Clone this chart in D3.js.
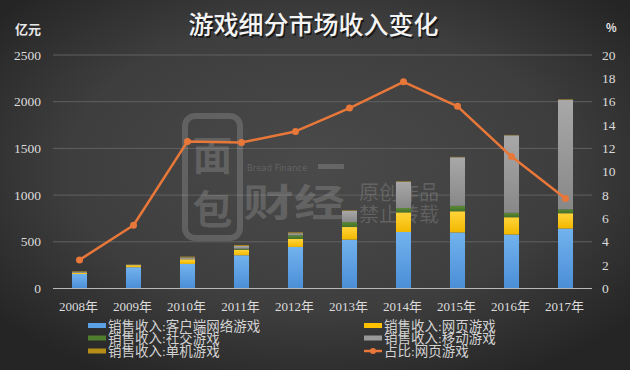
<!DOCTYPE html>
<html>
<head>
<meta charset="utf-8">
<script src="https://cdn.jsdelivr.net/npm/d3@7"></script>
<style>
  html, body { margin: 0; padding: 0; background: #333; }
  svg { display: block; }
</style>
</head>
<body>
<div id="chart"></div>
<script>
// values (亿元 / %)
var years = ["2008年", "2009年", "2010年", "2011年", "2012年", "2013年", "2014年", "2015年", "2016年", "2017年"];
var clientRev = [155, 228, 263, 356, 445, 523, 605, 600, 578, 642];
var webRev    = [12, 22, 50, 60, 85, 135, 210, 227, 185, 164];
var socialRev = [0, 0, 0, 10, 40, 53, 46, 58, 47, 42];
var mobileRev = [12, 4, 20, 30, 22, 120, 283, 520, 830, 1172];
var singleRev = [6, 2, 8, 10, 8, 5, 5, 4, 4, 5];
var webShare  = [2.45, 5.42, 12.6, 12.5, 13.45, 15.45, 17.7, 15.6, 11.3, 7.7];
var leftTicks = [0, 500, 1000, 1500, 2000, 2500];
var rightTicks = [0, 2, 4, 6, 8, 10, 12, 14, 16, 18, 20];

var seriesNames = ["销售收入:客户端网络游戏", "销售收入:网页游戏", "销售收入:社交游戏", "销售收入:移动游戏", "销售收入:单机游戏"];
var seriesKeys = ["client", "web", "social", "mobile", "single"];
var lineName = "占比:网页游戏";

var width = 630, height = 370;
var serif = "'Liberation Serif', 'DejaVu Serif', 'Noto Sans CJK SC', serif";
var cjk = "'Noto Sans CJK SC', sans-serif";

var table = years.map(function (y, i) {
    return { year: y, client: clientRev[i], web: webRev[i], social: socialRev[i], mobile: mobileRev[i], single: singleRev[i] };
});

var svg = d3.select("#chart").append("svg")
    .attr("width", width)
    .attr("height", height);

var defs = svg.append("defs");

// dark vignette background
var bg = defs.append("radialGradient").attr("id", "bg")
    .attr("cx", "50%").attr("cy", "45%").attr("r", "65%");
bg.append("stop").attr("offset", "0%").attr("stop-color", "#4a4a4a");
bg.append("stop").attr("offset", "60%").attr("stop-color", "#3e3e3e");
bg.append("stop").attr("offset", "100%").attr("stop-color", "#252525");

function barGrad(id, c1, c2) {
    var g = defs.append("linearGradient").attr("id", id)
        .attr("x1", 0).attr("y1", 0).attr("x2", 0).attr("y2", 1);
    g.append("stop").attr("offset", "0%").attr("stop-color", c1);
    g.append("stop").attr("offset", "100%").attr("stop-color", c2);
}
barGrad("g-client", "#72b2ee", "#4a8ed6");
barGrad("g-web", "#ffd43a", "#f2b800");
barGrad("g-social", "#5a8a34", "#42702a");
barGrad("g-mobile", "#a8a8a8", "#888888");
barGrad("g-single", "#c59a1c", "#a07c10");

var colors = {
    client: "url(#g-client)", web: "url(#g-web)", social: "url(#g-social)",
    mobile: "url(#g-mobile)", single: "url(#g-single)"
};
var swatch = { client: "#5b9fe4", web: "#ffc000", social: "#4e7d2e", mobile: "#999999", single: "#b68d16" };

svg.append("rect").attr("width", width).attr("height", height).attr("fill", "url(#bg)");

var x = d3.scaleBand()
    .domain(years)
    .range([52.5, 592.5])
    .paddingInner(0.722)
    .paddingOuter(0.361);

var yL = d3.scaleLinear().domain([0, 2500]).range([288.5, 55]);
var yR = d3.scaleLinear().domain([0, 20]).range([288.5, 55]);

// gridlines
svg.append("g").selectAll("line")
    .data(leftTicks.filter(function (d) { return d > 0; }))
    .enter().append("line")
    .attr("x1", 53).attr("x2", 592)
    .attr("y1", function (d) { return yL(d); })
    .attr("y2", function (d) { return yL(d); })
    .attr("stroke", "#616161").attr("stroke-width", 1);

// watermark
var wmOp = 0.16;
var wm = svg.append("g").attr("fill", "#ffffff").attr("fill-opacity", wmOp);
wm.append("rect").attr("x", 185).attr("y", 116).attr("width", 55).attr("height", 122).attr("rx", 10)
    .attr("fill", "none").attr("stroke", "#ffffff").attr("stroke-opacity", wmOp).attr("stroke-width", 6);
wm.append("text").attr("x", 212.5).attr("y", 170).attr("text-anchor", "middle")
    .attr("font-family", cjk).attr("font-size", 40).attr("font-weight", 700).text("面");
wm.append("text").attr("x", 212.5).attr("y", 224).attr("text-anchor", "middle")
    .attr("font-family", cjk).attr("font-size", 40).attr("font-weight", 700).text("包");
wm.append("text").attr("x", 247).attr("y", 171)
    .attr("font-family", "'DejaVu Sans', sans-serif").attr("font-size", 8.5).text("Bread Finance");
wm.append("rect").attr("x", 318).attr("y", 164).attr("width", 26).attr("height", 5);
wm.append("text").attr("x", 243).attr("y", 216)
    .attr("font-family", cjk).attr("font-size", 38).attr("font-weight", 700)
    .attr("textLength", 102).attr("lengthAdjust", "spacingAndGlyphs").text("财经");
var stamp = wm.append("text").attr("font-family", cjk).attr("font-size", 20);
stamp.append("tspan").attr("x", 359).attr("y", 200).text("原创作品");
stamp.append("tspan").attr("x", 359).attr("y", 222).text("禁止转载");

// stacked bars
var stack = d3.stack().keys(seriesKeys);
var layers = stack(table);

svg.append("g").selectAll("g")
    .data(layers)
    .enter().append("g")
    .attr("fill", function (d) { return colors[d.key]; })
    .selectAll("rect")
    .data(function (d) { return d; })
    .enter().append("rect")
    .attr("x", function (d) { return x(d.data.year); })
    .attr("width", x.bandwidth())
    .attr("y", function (d) { return yL(d[1]); })
    .attr("height", function (d) { return Math.max(0, yL(d[0]) - yL(d[1])); });

// baseline
svg.append("line")
    .attr("x1", 53).attr("x2", 592)
    .attr("y1", yL(0)).attr("y2", yL(0))
    .attr("stroke", "#b8b8b8").attr("stroke-width", 1);

// share line
var line = d3.line()
    .x(function (d, i) { return x(years[i]) + x.bandwidth() / 2; })
    .y(function (d) { return yR(d); });

svg.append("path")
    .datum(webShare)
    .attr("d", line)
    .attr("fill", "none")
    .attr("stroke", "#e8773a")
    .attr("stroke-width", 2.5)
    .attr("stroke-linejoin", "round");

svg.append("g").selectAll("circle")
    .data(webShare)
    .enter().append("circle")
    .attr("cx", function (d, i) { return x(years[i]) + x.bandwidth() / 2; })
    .attr("cy", function (d) { return yR(d); })
    .attr("r", 3.5)
    .attr("fill", "#e8773a");

// axes labels
svg.append("g").selectAll("text")
    .data(leftTicks)
    .enter().append("text")
    .attr("x", 41)
    .attr("y", function (d) { return yL(d) + 4.5; })
    .attr("text-anchor", "end")
    .attr("font-family", serif).attr("font-size", 13.5)
    .attr("fill", "#dcdcdc")
    .text(function (d) { return d; });

svg.append("g").selectAll("text")
    .data(rightTicks)
    .enter().append("text")
    .attr("x", 602)
    .attr("y", function (d) { return yR(d) + 4.5; })
    .attr("font-family", serif).attr("font-size", 13.5)
    .attr("fill", "#dcdcdc")
    .text(function (d) { return d; });

svg.append("g").selectAll("text")
    .data(years)
    .enter().append("text")
    .attr("x", function (d) { return x(d) + x.bandwidth() / 2 - 1; })
    .attr("y", 311)
    .attr("text-anchor", "middle")
    .attr("font-family", serif).attr("font-size", 13)
    .attr("fill", "#dcdcdc")
    .text(function (d) { return d; });

svg.append("text").attr("x", 15).attr("y", 34)
    .attr("font-family", cjk).attr("font-size", 13).attr("font-weight", 700)
    .attr("fill", "#e8e8e8").text("亿元");
svg.append("text").attr("x", 606).attr("y", 32)
    .attr("font-family", cjk).attr("font-size", 11).attr("font-weight", 700)
    .attr("fill", "#e8e8e8").text("%");

// title with a soft shadow
svg.append("text").attr("x", 315).attr("y", 35.5)
    .attr("text-anchor", "middle")
    .attr("font-family", cjk).attr("font-size", 25).attr("font-weight", 500)
    .attr("fill", "#000").attr("fill-opacity", 0.6)
    .text("游戏细分市场收入变化");
svg.append("text").attr("x", 313.5).attr("y", 34)
    .attr("text-anchor", "middle")
    .attr("font-family", cjk).attr("font-size", 25).attr("font-weight", 500)
    .attr("fill", "#f4f4f4")
    .text("游戏细分市场收入变化");

// legend
var legendItems = [
    { key: "client", col: 0, row: 0 },
    { key: "web", col: 1, row: 0 },
    { key: "social", col: 0, row: 1 },
    { key: "mobile", col: 1, row: 1 },
    { key: "single", col: 0, row: 2 }
];
var colX = [88, 364], rowY = [325.5, 338, 351];

var legend = svg.append("g");
legendItems.forEach(function (d) {
    var i = seriesKeys.indexOf(d.key);
    var gx = colX[d.col], gy = rowY[d.row];
    legend.append("rect").attr("x", gx).attr("y", gy - 2.5).attr("width", 18).attr("height", 5)
        .attr("fill", swatch[d.key]);
    legend.append("text").attr("x", gx + 20).attr("y", gy + 5)
        .attr("font-family", serif).attr("font-size", 13.5)
        .attr("fill", "#d2d2d2").text(seriesNames[i]);
});
legend.append("line").attr("x1", colX[1]).attr("x2", colX[1] + 18)
    .attr("y1", rowY[2]).attr("y2", rowY[2])
    .attr("stroke", "#e8773a").attr("stroke-width", 2.5);
legend.append("circle").attr("cx", colX[1] + 9).attr("cy", rowY[2]).attr("r", 3)
    .attr("fill", "#e8773a");
legend.append("text").attr("x", colX[1] + 20).attr("y", rowY[2] + 5)
    .attr("font-family", serif).attr("font-size", 13.5)
    .attr("fill", "#d2d2d2").text(lineName);
</script>
</body>
</html>
